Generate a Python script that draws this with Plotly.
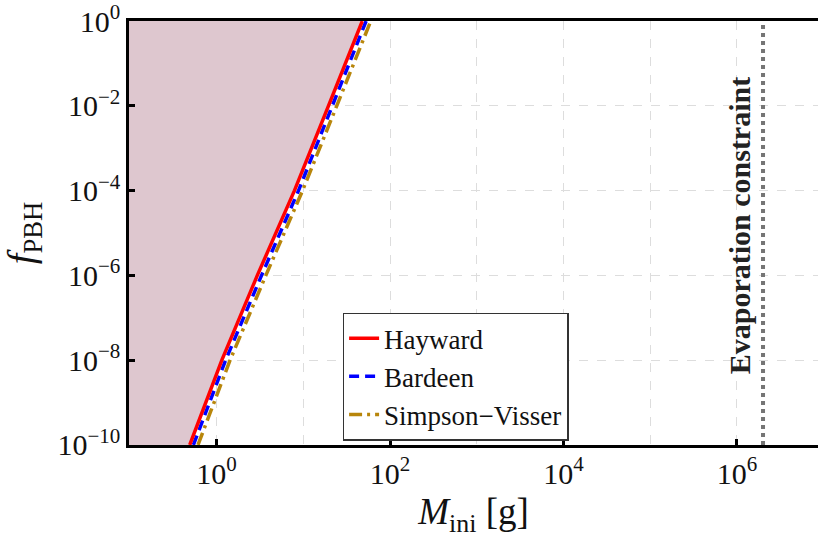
import numpy as np
import plotly.graph_objects as go

# ---- data ----
f_pbh = [1e-10, 1e-8, 1e-6, 1e-4, 1e-2, 1.0]
M_hayward = [0.49, 1.15, 2.95, 7.9, 19.5, 47.9]
M_bardeen = [0.54, 1.27, 3.3, 8.8, 21.6, 53.0]
M_simpson_visser = [0.61, 1.43, 3.7, 9.8, 24.3, 60.0]
M_evaporation = 2.0e6

x_tickvals = [1, 1e2, 1e4, 1e6]
x_ticktext = ["10<sup>0</sup>", "10<sup>2</sup>", "10<sup>4</sup>", "10<sup>6</sup>"]
x_minor = [0.1, 10, 1e3, 1e5]
y_tickvals = [1e-10, 1e-8, 1e-6, 1e-4, 1e-2, 1]
y_ticktext = ["10<sup>−10</sup>", "10<sup>−8</sup>", "10<sup>−6</sup>",
              "10<sup>−4</sup>", "10<sup>−2</sup>", "10<sup>0</sup>"]

x_range_log = [-1.01, 6.935]
y_range_log = [-10.0005, 0.0005]

FONT = "Liberation Serif"
TICKFONT = dict(family=FONT, size=30, color="#111111")

fig = go.Figure()

# shaded excluded region (left of Hayward curve)
x_left = 10 ** (x_range_log[0] - 0.2)
fig.add_trace(go.Scatter(
    x=[x_left] + M_hayward + [x_left],
    y=[f_pbh[0]] + f_pbh + [f_pbh[-1]],
    fill="toself", fillcolor="rgb(222,199,207)",
    line=dict(width=0), mode="lines", showlegend=False, hoverinfo="skip"))

fig.add_trace(go.Scatter(x=M_simpson_visser, y=f_pbh, mode="lines",
                         name="Simpson−Visser", showlegend=False,
                         line=dict(color="#b8860b", width=3.5, dash="13px,5px,3px,5px")))
fig.add_trace(go.Scatter(x=M_bardeen, y=f_pbh, mode="lines", name="Bardeen",
                         showlegend=False,
                         line=dict(color="#0000ff", width=3.5, dash="10px,6px")))
fig.add_trace(go.Scatter(x=M_hayward, y=f_pbh, mode="lines", name="Hayward",
                         line=dict(color="#ff0000", width=3.5)))
# legend-only duplicates in order
fig.add_trace(go.Scatter(x=[None], y=[None], mode="lines", name="Bardeen",
                         line=dict(color="#0000ff", width=3.5, dash="10px,6px")))
fig.add_trace(go.Scatter(x=[None], y=[None], mode="lines", name="Simpson−Visser",
                         line=dict(color="#b8860b", width=3.5, dash="13px,5px,3px,5px")))

# evaporation constraint line
fig.add_trace(go.Scatter(x=[M_evaporation, M_evaporation], y=[1e-10, 1], mode="lines",
                         showlegend=False,
                         line=dict(color="#757575", width=4, dash="4px,4px")))

fig.add_annotation(x=np.log10(M_evaporation), y=-4.83, xref="x", yref="y",
                   text="<b>Evaporation constraint</b>", textangle=-90,
                   showarrow=False, xanchor="right", yanchor="middle", xshift=-5,
                   font=dict(family=FONT, size=30, color="#222222"))

fig.update_layout(
    width=818, height=542,
    margin=dict(l=129, r=0, t=15, b=97),
    plot_bgcolor="white", paper_bgcolor="white",
    font=dict(family=FONT, size=28, color="#111111"),
    legend=dict(x=0.31, y=0.312, xanchor="left", yanchor="top",
                bgcolor="white", bordercolor="#333333", borderwidth=1.5,
                font=dict(family=FONT, size=27, color="#111111"),
                tracegroupgap=0),
    xaxis=dict(type="log", range=x_range_log,
               tickmode="array", tickvals=x_tickvals, ticktext=x_ticktext,
               tickfont=TICKFONT, ticklabeloverflow="allow",
               ticks="inside", ticklen=6, tickwidth=2.5, tickcolor="black",
               showline=True, linecolor="black", linewidth=2.5, mirror=True,
               showgrid=True, gridcolor="#dddddd", griddash="dash", gridwidth=1,
               minor=dict(tickvals=x_minor, ticklen=0, showgrid=True,
                          gridcolor="#dddddd", griddash="dash", gridwidth=1),
               zeroline=False,
               title=dict(text="<i>M</i><sub>ini</sub> [g]", standoff=10,
                          font=dict(family=FONT, size=37, color="#111111"))),
    yaxis=dict(type="log", range=y_range_log,
               tickmode="array", tickvals=y_tickvals, ticktext=y_ticktext,
               tickfont=TICKFONT, ticklabeloverflow="allow",
               ticks="inside", ticklen=6, tickwidth=2.5, tickcolor="black",
               showline=True, linecolor="black", linewidth=2.5, mirror=False,
               showgrid=True, gridcolor="#dddddd", griddash="dash", gridwidth=1,
               zeroline=False,
               title=dict(text="<i>f</i><sub>PBH</sub>", standoff=16,
                          font=dict(family=FONT, size=38, color="#111111"))),
)

fig.write_html("out.html")
